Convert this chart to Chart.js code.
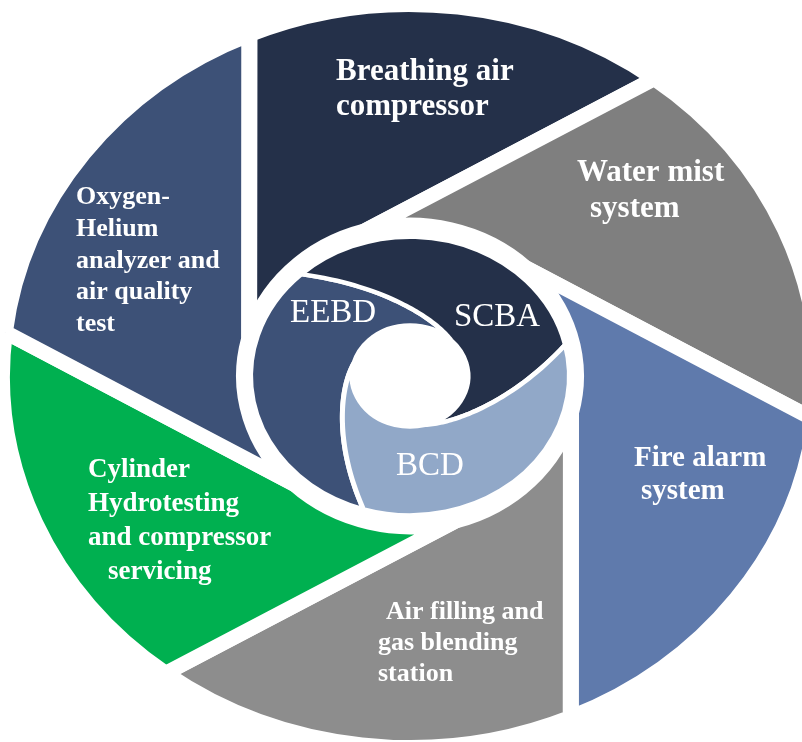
<!DOCTYPE html>
<html>
<head>
<meta charset="utf-8">
<script src="https://cdn.jsdelivr.net/npm/chart.js@4.4.1/dist/chart.umd.min.js"></script>
<style>
  html, body { margin: 0; padding: 0; background: #fff; }
  #chart { display: block; }
</style>
</head>
<body>
<canvas id="chart" width="802" height="742"></canvas>
<script>
// outer ring: six service areas, equal share each
const outerLabels = [
    ['Breathing air', 'compressor'],
    ['Water mist', 'system'],
    ['Fire alarm', 'system'],
    ['Air filling and', 'gas blending', 'station'],
    ['Cylinder', 'Hydrotesting', 'and compressor', 'servicing'],
    ['Oxygen-', 'Helium', 'analyzer and', 'air quality', 'test']
];
const outerValues = [1, 1, 1, 1, 1, 1];
const outerColors = ['#243049', '#7f7f7f', '#5f7aac', '#8d8d8d', '#00b050', '#3d5177'];

// inner swirl: three equipment groups
const innerLabels = ['EEBD', 'SCBA', 'BCD'];
const innerValues = [1, 1, 1];
const innerColors = ['#3d5177', '#243049', '#91a8c8'];

// text placement (left x per line, first baseline, line step, font size)
const outerText = [
    {x: [336, 336], y: 80, step: 35, size: 31},
    {x: [577, 590], y: 181, step: 36, size: 31},
    {x: [634, 641], y: 466, step: 33, size: 29},
    {x: [386, 378, 378], y: 619, step: 31, size: 26},
    {x: [88, 88, 88, 108], y: 477, step: 34, size: 27},
    {x: [76, 76, 76, 76, 76], y: 204, step: 31.8, size: 26}
];
const innerText = [[290, 322], [454, 326], [396, 475]];

const SQUASH = 0.91;
const DISK_SQUASH = 0.96;

const {ArcElement, DoughnutController} = Chart;

function polar(x, y, r, a) {
    return [x + r * Math.cos(a), y + r * Math.sin(a)];
}

// aperture blade: straight edges are tangents to a circle just inside the ring
class BladeArc extends ArcElement {
    static id = 'bladeArc';
    draw(ctx) {
        const {x, y, startAngle, endAngle, innerRadius, outerRadius} =
            this.getProps(['x', 'y', 'startAngle', 'endAngle', 'innerRadius', 'outerRadius']);
        const o = this.options;
        const rt = innerRadius - 5;
        const alpha = Math.acos(rt / outerRadius);
        const beta = Math.acos(rt / innerRadius);
        const t0 = startAngle - alpha;
        const t1 = endAngle - alpha;
        ctx.save();
        ctx.beginPath();
        ctx.moveTo(...polar(x, y, innerRadius, t0 + beta));
        ctx.lineTo(...polar(x, y, outerRadius, startAngle));
        ctx.arc(x, y, outerRadius, startAngle, endAngle);
        ctx.lineTo(...polar(x, y, innerRadius, t1 + beta));
        ctx.arc(x, y, innerRadius, t1 + beta, t0 + beta, true);
        ctx.closePath();
        ctx.fillStyle = o.backgroundColor;
        ctx.fill();
        ctx.lineJoin = 'miter';
        ctx.strokeStyle = o.borderColor;
        ctx.lineWidth = o.borderWidth;
        ctx.stroke();
        ctx.restore();
    }
}

// swirl piece: edges spiral in toward the hole
class SwirlArc extends ArcElement {
    static id = 'swirlArc';
    draw(ctx) {
        const {x, y, startAngle, endAngle, innerRadius, outerRadius} =
            this.getProps(['x', 'y', 'startAngle', 'endAngle', 'innerRadius', 'outerRadius']);
        const o = this.options;
        const ro = outerRadius - 6.5;
        const rh = innerRadius;
        const sweep = Math.PI * 88 / 180;
        const k = 1.9;
        const e = Math.exp(-k * sweep);
        const rad = t => rh + (ro - rh) * (Math.exp(-k * t) - e) / (1 - e);
        const n = 48;
        ctx.save();
        ctx.translate(x, y);
        ctx.scale(1, DISK_SQUASH);
        ctx.translate(-x, -y);
        ctx.beginPath();
        ctx.arc(x, y, ro, startAngle, endAngle);
        for (let i = 1; i <= n; i++) {
            const t = sweep * i / n;
            ctx.lineTo(...polar(x, y, rad(t), endAngle + t));
        }
        ctx.arc(x, y, rh, endAngle + sweep, startAngle + sweep, true);
        for (let i = n; i >= 0; i--) {
            const t = sweep * i / n;
            ctx.lineTo(...polar(x, y, rad(t), startAngle + t));
        }
        ctx.closePath();
        ctx.fillStyle = o.backgroundColor;
        ctx.fill();
        ctx.lineJoin = 'round';
        ctx.strokeStyle = o.borderColor;
        ctx.lineWidth = o.borderWidth;
        ctx.stroke();
        ctx.restore();
    }
}

class BladeController extends DoughnutController {
    static id = 'blade';
    static defaults = {...DoughnutController.defaults, dataElementType: 'bladeArc'};
    static overrides = DoughnutController.overrides;
}

class SwirlController extends DoughnutController {
    static id = 'swirl';
    static defaults = {...DoughnutController.defaults, dataElementType: 'swirlArc'};
    static overrides = DoughnutController.overrides;
}

Chart.register(BladeArc, SwirlArc, BladeController, SwirlController);

// the picture is a slightly flattened circle
const squash = {
    id: 'squash',
    beforeDatasetsDraw(chart) {
        const arc = chart.getDatasetMeta(0).data[0];
        const ctx = chart.ctx;
        ctx.save();
        ctx.translate(arc.x, arc.y);
        ctx.scale(1, SQUASH);
        ctx.translate(-arc.x, -arc.y);
    },
    afterDatasetsDraw(chart) {
        chart.ctx.restore();
    }
};

const sliceText = {
    id: 'sliceText',
    afterDraw(chart) {
        const ctx = chart.ctx;
        ctx.save();
        ctx.fillStyle = '#ffffff';
        ctx.textAlign = 'left';
        ctx.textBaseline = 'alphabetic';
        outerLabels.forEach((lines, i) => {
            const t = outerText[i];
            ctx.font = 'bold ' + t.size + 'px "Liberation Serif", "Times New Roman", serif';
            lines.forEach((line, j) => ctx.fillText(line, t.x[j], t.y + j * t.step));
        });
        ctx.font = '33px "Liberation Serif", "Times New Roman", serif';
        innerLabels.forEach((label, i) => ctx.fillText(label, innerText[i][0], innerText[i][1]));
        ctx.restore();
    }
};

new Chart(document.getElementById('chart'), {
    type: 'doughnut',
    data: {
        labels: outerLabels.map(l => l.join(' ')),
        datasets: [
            {
                type: 'blade',
                data: outerValues,
                backgroundColor: outerColors,
                borderColor: '#ffffff',
                borderWidth: 16,
                weight: 242,
                rotation: 336.8,
                order: 1,
                clip: false
            },
            {
                type: 'swirl',
                data: innerValues,
                backgroundColor: innerColors,
                borderColor: '#ffffff',
                borderWidth: 5,
                weight: 108,
                rotation: 197,
                order: 0,
                clip: false
            }
        ]
    },
    options: {
        responsive: false,
        animation: false,
        events: [],
        radius: 408,
        cutout: '14.2%',
        layout: {padding: {left: 18, top: 10}},
        plugins: {
            legend: {display: false},
            tooltip: {enabled: false}
        }
    },
    plugins: [squash, sliceText]
});
</script>
</body>
</html>
